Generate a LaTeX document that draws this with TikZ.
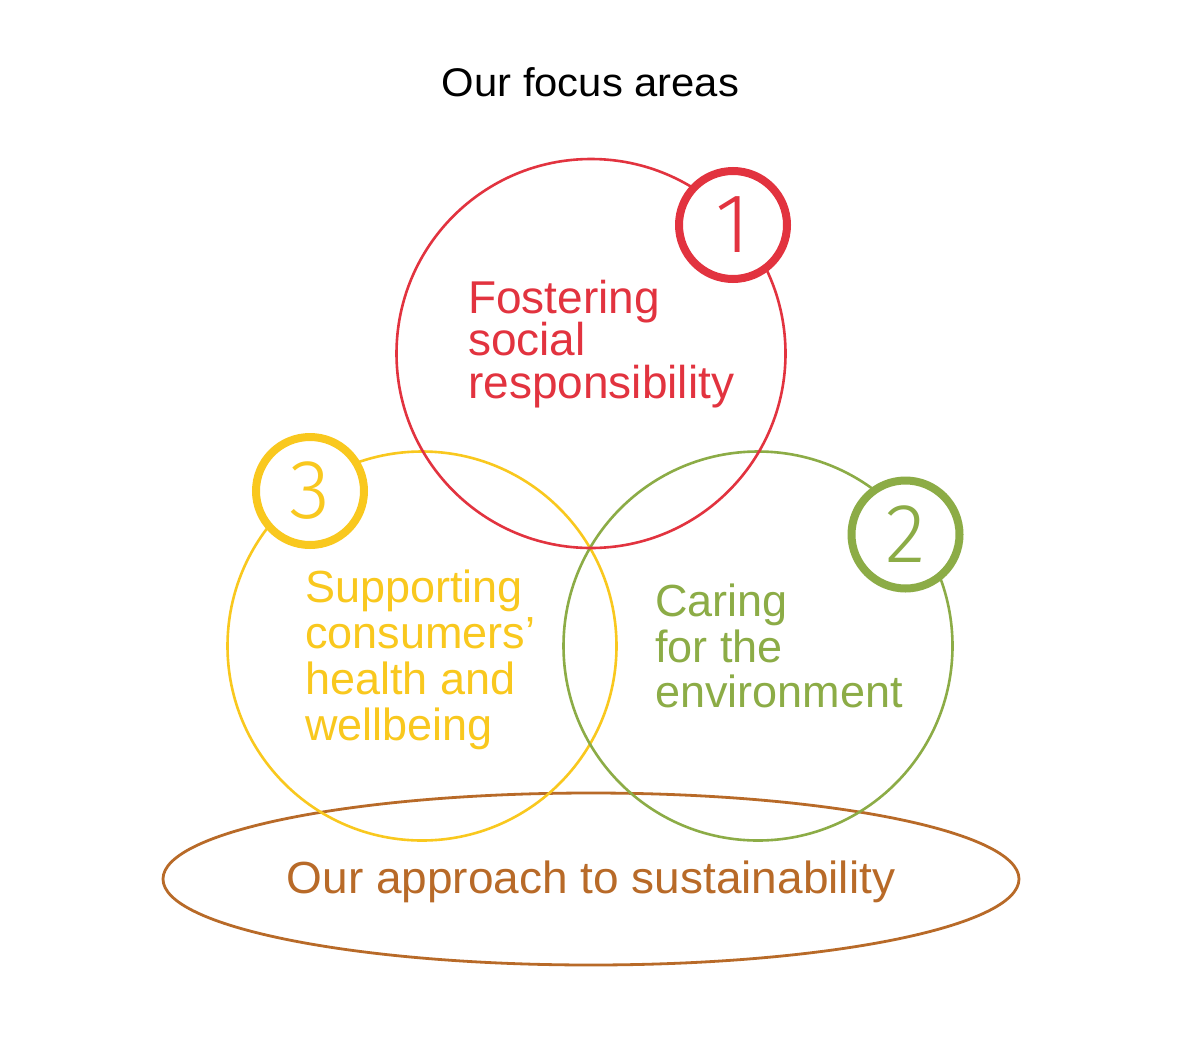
\documentclass[tikz,border=0pt]{standalone}
\usepackage{fontspec}
\setmainfont{Liberation Sans}
\newfontfamily\numfont{Fira Sans Light}
\usetikzlibrary{shapes.geometric}
\definecolor{cred}{HTML}{E2333F}
\definecolor{cyellow}{HTML}{F9C81E}
\definecolor{cgreen}{HTML}{8CAC46}
\definecolor{cbrown}{HTML}{B86A28}
\tikzset{
  bigcircle/.style={circle, draw, line width=2.6pt, minimum size=389pt, inner sep=0pt},
  numcircle/.style={circle, draw, fill=white, line width=8pt, minimum size=108pt, inner sep=0pt,
    font=\numfont\fontsize{84}{84}\selectfont},
  blocktext/.style={anchor=base west, align=left, inner sep=0pt},
}
\begin{document}
\begin{tikzpicture}[x=1pt,y=-1pt]
\useasboundingbox[fill=white] (0,0) rectangle (1181,1063);
\node[anchor=base, inner sep=0pt, font=\fontsize{40}{40}\selectfont] (title) at (590.5,96.7) {\scalebox{1.045}[1]{Our focus areas}};
\node[ellipse, draw=cbrown, line width=2.8pt, minimum width=856pt, minimum height=172pt, inner sep=0pt] (base) at (591,879) {};
\node[bigcircle, draw=cyellow] (c3) at (422,646) {};
\node[bigcircle, draw=cgreen] (c2) at (758,646) {};
\node[bigcircle, draw=cred] (c1) at (591,353.5) {};
\node[numcircle, draw=cred, text=cred] (n1) at (733,225) {1};
\node[numcircle, draw=cyellow, text=cyellow] (n3) at (310,491) {3};
\node[numcircle, draw=cgreen, text=cgreen] (n2) at (905.5,534.5) {2};
\node[blocktext, text=cred, font={\fontsize{46}{42.5}\selectfont\lineskiplimit=-100pt}] (t1) at (468,398) {Fostering\\social\\responsibility};
\node[blocktext, text=cyellow, font={\fontsize{45}{45.7}\selectfont\lineskiplimit=-100pt}] (t3) at (305,740) {Supporting\\consumers’\\health and\\wellbeing};
\node[blocktext, text=cgreen, font={\fontsize{45}{45.5}\selectfont\lineskiplimit=-100pt}] (t2) at (655,707.7) {Caring\\for the\\environment};
\node[anchor=base, inner sep=0pt, text=cbrown, font=\fontsize{45}{45}\selectfont] (tb) at (591,893) {\scalebox{1.022}[1]{Our approach to sustainability}};
\end{tikzpicture}
\end{document}
